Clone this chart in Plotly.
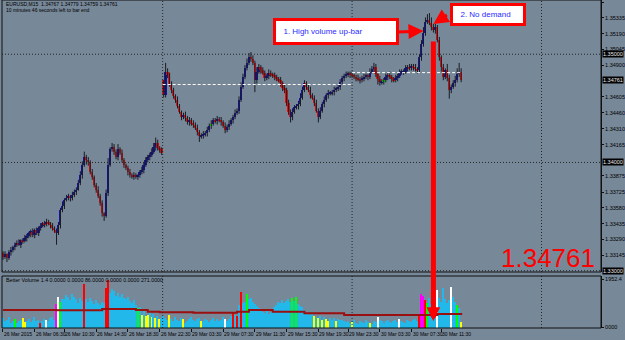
import plotly.graph_objects as go

# ---------------- data ----------------
closes_a = [1.3313, 1.3315, 1.3312, 1.3317, 1.3319, 1.3322, 1.3324, 1.3326, 1.3324, 1.3328,
            1.3327, 1.3330, 1.3332, 1.3335, 1.3336, 1.3333, 1.3338, 1.3335, 1.3339, 1.3341,
            1.3344, 1.3343, 1.3345, 1.3344, 1.3342, 1.3339, 1.3338, 1.3335, 1.3342, 1.3356,
            1.3360, 1.3365, 1.3367, 1.3369, 1.3367, 1.3370, 1.3373, 1.3375, 1.3381, 1.3388,
            1.3398, 1.3405, 1.3402, 1.3400, 1.3391, 1.3387, 1.3379, 1.3375, 1.3369, 1.3363,
            1.3353, 1.3351, 1.3372, 1.3398, 1.3412, 1.3414, 1.3410, 1.3405, 1.3412, 1.3409,
            1.3402, 1.3398, 1.3395, 1.3391, 1.3388, 1.3387, 1.3388, 1.3387, 1.3388, 1.3391,
            1.3393, 1.3398, 1.3402, 1.3405, 1.3407, 1.3410, 1.3414, 1.3418, 1.3413, 1.3412,
            1.3409]
closes_b = [1.3462, 1.3484, 1.3481, 1.3472, 1.3467, 1.3461, 1.3458, 1.3452, 1.3447, 1.3442,
            1.3444, 1.3441, 1.3437, 1.3439, 1.3436, 1.3435, 1.3432, 1.3428, 1.3424, 1.3425,
            1.3426, 1.3427, 1.3430, 1.3434, 1.3436, 1.3439, 1.3438, 1.3440, 1.3439, 1.3437,
            1.3434, 1.3430, 1.3433, 1.3436, 1.3439, 1.3442, 1.3446, 1.3448, 1.3458, 1.3470,
            1.3479, 1.3487, 1.3492, 1.3497, 1.3496, 1.3492, 1.3476, 1.3484, 1.3488, 1.3485,
            1.3483, 1.3478, 1.3480, 1.3483, 1.3481, 1.3480, 1.3479, 1.3477, 1.3476, 1.3473,
            1.3469, 1.3467, 1.3455, 1.3447, 1.3442, 1.3447, 1.3451, 1.3452, 1.3454, 1.3460,
            1.3467, 1.3473, 1.3470, 1.3467, 1.3462, 1.3460, 1.3455, 1.3448, 1.3442, 1.3448,
            1.3454, 1.3458, 1.3462, 1.3464, 1.3464, 1.3465, 1.3467, 1.3468, 1.3470, 1.3474,
            1.3478, 1.3480, 1.3481, 1.3482, 1.3481, 1.3480, 1.3479, 1.3478, 1.3477, 1.3476,
            1.3478, 1.3479, 1.3480, 1.3479, 1.3484, 1.3486, 1.3488, 1.3482, 1.3477, 1.3474,
            1.3475, 1.3476, 1.3479, 1.3481, 1.3479, 1.3477, 1.3476, 1.3478, 1.3480, 1.3483,
            1.3484, 1.3484, 1.3487, 1.3488, 1.3487, 1.3489, 1.3488, 1.3486, 1.3485, 1.3497,
            1.3509, 1.3520, 1.3530, 1.3532, 1.3529, 1.3525, 1.3522, 1.3525, 1.3513, 1.3497,
            1.3488, 1.3479, 1.3485, 1.3478, 1.3467, 1.3470, 1.3473, 1.3476, 1.3482, 1.3484,
            1.34761]
first_open = 1.3316
gap_bar = 81
gap_open = 1.3476

# wick lengths above / below the body, in pips
wick_up = [2,3,1,2,3,1,2,2,3,1, 2,3,2,1,2,3,1,2,2,3, 1,2,3,2,1,2,2,1,3,2,
           4,2,3,2,1,3,2,2,3,4, 3,5,2,3,2,3,1,2,3,2, 2,1,3,6,2,4,3,2,5,2,
           3,2,1,2,3,2,3,2,1,2, 3,2,3,2,2,3,4,5,3,2, 2,
           0,8,3,2,3,2,2,3,2,1, 2,3,2,3,2,3,2,3,2,2, 3,2,3,2,3,2,2,3,2,3,
           2,3,2,3,2,2,3,2,3,4, 3,3,4,4,5,3,2,4,3,2, 3,2,2,3,2,2,3,2,2,3,
           2,3,2,3,2,3,2,2,3,4, 3,3,2,2,3,2,2,3,2,3, 2,3,2,3,2,2,3,2,2,3,
           2,2,3,2,2,3,2,2,3,2, 2,3,2,2,3,3,4,3,2,3, 2,2,3,2,3,2,2,3,2,3,
           2,2,3,2,3,2,2,3,2,3, 4,5,4,5,6,5,3,3,2,3, 2,3,2,6,3,2,3,4,5,8, 3]
wick_dn = [3,2,4,2,3,2,3,2,1,3, 2,1,3,2,4,2,3,2,3,2, 1,3,2,2,3,2,3,11,2,3,
           2,3,1,2,3,2,2,3,1,2, 3,2,4,3,2,3,2,3,2,3, 3,5,2,3,2,2,3,2,3,2,
           2,3,2,3,2,2,3,2,3,2, 2,3,2,2,3,2,2,3,2,3, 2,
           2,2,3,2,3,2,3,2,2,3, 2,3,2,3,2,3,2,3,5,2, 3,2,3,2,3,2,2,3,2,3,
           2,3,2,3,2,3,2,2,3,2, 2,2,2,2,3,2,11,3,2,3, 2,3,2,3,2,2,3,2,2,3,
           3,3,3,3,5,3,2,2,3,2, 2,2,3,2,3,2,3,2,5,2, 2,3,2,3,2,2,3,2,2,3,
           2,3,2,2,3,2,2,3,2,3, 2,3,2,3,2,2,3,3,5,3, 2,3,2,3,2,3,2,2,3,2,
           2,3,2,3,2,2,3,2,3,2, 3,2,3,2,2,3,2,3,2,3, 4,3,2,3,8,3,2,3,2,3, 2]
green_bars = [105, 192]

volumes = ([380, 250, 300, 420, 200, 260, 330, 180, 250, 300, 390, 220, 280, 350, 240, 300, 420, 260,
            310, 200, 280, 350, 300, 250, 380, 420, 300]
           + [960, 1230, 1050, 1150]
           + [1180, 1320, 1260, 1100, 1380, 1250, 1150, 1000, 1220, 1080]
           + [1780]
           + [1150, 1020, 1200, 1080, 950, 1100, 1000, 900, 1050, 980]
           + [1620, 1940]
           + [1420, 1550, 1480, 1300, 1400, 1250, 1350, 1200, 1150, 1250, 1080, 1000, 1100]
           + [900, 780, 850, 520, 700, 450]
           + [500, 620, 420, 560, 380, 480, 350, 400]
           + [450, 380, 300, 520, 350, 280, 420, 300, 250, 380, 330, 200, 280, 350, 420, 300, 260, 330,
              400, 280, 250, 360, 300, 220, 310, 380, 270, 330, 250, 300, 420, 360, 280, 330, 450, 600,
              520, 480]
           + [900, 1430, 1000, 1050, 1350, 1150, 1200, 1020, 950, 880, 780, 700, 650, 600, 700, 560, 650]
           + [750, 820, 900, 1050, 980, 1100, 1000, 1080, 1150, 1020, 1200, 1080, 1230, 950, 880, 820, 700]
           + [620, 580, 520, 560, 480, 420, 380, 450, 300, 420, 350, 280, 380, 320, 400, 260, 350, 300]
           + [300, 250, 220, 280, 180, 240, 300, 200, 150, 260, 220, 180, 300, 240, 200, 160, 280, 220,
              420, 300, 250, 200, 280, 320, 240, 180, 260, 300, 220, 350, 280, 240, 200, 310, 260, 220,
              300, 350, 280, 520]
           + [1380, 1300, 1100, 1000, 1200, 950, 1050, 1100, 1520, 1200, 1050, 1600, 1150, 980, 1100,
              1650, 1250, 1050, 900, 800, 220])
volume_kind = ("bbbbbbgbbbyybbbbbbbrbbwbbbb" + "mwgb" + "b" * 10 + "r" + "b" * 10 + "rr" + "b" * 13
               + "bgbyby" + "ybybybyb"
               + "bbb" + "y" + "bbbbbb" + "y" + "bbbbbbbb" + "y" + "bbbbbbbbbbb" + "w" + "bbb" + "r" + "b" + "r"
               + "brbbgbbbbbbbbbbbb" + "bbbbbbbbbbgbgbbbb" + "bbbbybybybyybbbybb"
               + "bbbbbybbbbbbbbybbbwbbbbbbbbbbwbbbbbbbbbr"
               + "mmrgbbbbwbbbbbbwbbgby")
ma_start = [0, 27, 50, 67, 73, 79, 96, 118, 124, 136, 152, 172, 219, 231.5]
ma_level = [712, 700, 753, 712, 645, 618, 603, 645, 712, 645, 577, 509, 550, 550]

price_ticks = [1.35480, 1.35335, 1.35190, 1.35045, 1.34900, 1.34605, 1.34460, 1.34310, 1.34165,
               1.33875, 1.33725, 1.33580, 1.33435, 1.33290, 1.33145]
boxed_prices = [1.35000, 1.34761, 1.34000, 1.33000]
grid_prices = [1.35, 1.34, 1.33]
day_bars = [80.5, 176, 271.5]
day_open_level = [1.3472, 1.3483]
day_open_span = [(80.5, 176), (176, 231.5)]
date_bars = [0, 16, 31, 47, 63, 79, 95, 111, 127, 143, 159, 174, 190, 206, 221]
date_labels = ["26 Mar 2015", "26 Mar 06:30", "26 Mar 10:30", "26 Mar 14:30", "26 Mar 18:30",
               "26 Mar 22:30", "29 Mar 03:30", "29 Mar 07:30", "29 Mar 11:30", "29 Mar 15:30",
               "29 Mar 19:30", "29 Mar 23:30", "30 Mar 03:30", "30 Mar 07:30", "30 Mar 11:30"]
vol_max_label = 1952.4

# ---------------- build ----------------
PIP = 0.0001
closes = closes_a + closes_b
n = len(closes)
assert len(wick_up) == n and len(wick_dn) == n and len(volumes) == n and len(volume_kind) == n
idx = list(range(n))
opens = [first_open] + closes[:-1]
opens[gap_bar] = gap_open
highs = [max(o, c) + u * PIP for o, c, u in zip(opens, closes, wick_up)]
lows = [min(o, c) - d * PIP for o, c, d in zip(opens, closes, wick_dn)]

wx, wy = [], []
for i in idx:
    wx += [i, i, None]
    wy += [lows[i], highs[i], None]
body_base = [min(o, c) for o, c in zip(opens, closes)]
body_h = [max(abs(c - o), 0.00004) for o, c in zip(opens, closes)]
body_col = []
for i in idx:
    if i in green_bars:
        body_col.append("#00e000")
    elif closes[i] >= opens[i]:
        body_col.append("#1414a0")
    else:
        body_col.append("#e01414")

kind_col = {"b": "#22b8ea", "y": "#ffff00", "r": "#ff0000", "w": "#ffffff", "g": "#00ff00", "m": "#ff00ff"}
vcols = [kind_col[k] for k in volume_kind]

BG = "#778899"
FONT = "Liberation Sans"
H_PLOT = 328.0
main_dom = [56 / H_PLOT, 1.0]
vol_dom = [0.0, 52 / H_PLOT]
GRID = dict(color="#262626", width=1, dash="1px,2px")

fig = go.Figure()
fig.add_trace(go.Scatter(x=wx, y=wy, mode="lines", line=dict(color="#1b1b22", width=1),
                         hoverinfo="skip", yaxis="y", showlegend=False))
fig.add_trace(go.Bar(x=idx, y=body_h, base=body_base, width=0.9,
                     marker=dict(color=body_col, line=dict(width=0)), yaxis="y", showlegend=False))
fig.add_trace(go.Bar(x=idx, y=volumes, width=0.75,
                     marker=dict(color=vcols, line=dict(width=0)), yaxis="y2", showlegend=False))
fig.add_trace(go.Scatter(x=ma_start, y=ma_level, mode="lines",
                         line=dict(color="#9a0f0f", width=2, shape="hv"), yaxis="y2", showlegend=False))

shapes = []
for p in grid_prices:
    shapes.append(dict(type="line", xref="paper", x0=0, x1=1, yref="y", y0=p, y1=p, line=GRID))
for b in day_bars:
    for d0, d1 in (main_dom, vol_dom):
        shapes.append(dict(type="line", xref="x", x0=b, x1=b, yref="paper", y0=d0, y1=d1, line=GRID))
for lvl, (s0, s1) in zip(day_open_level, day_open_span):
    shapes.append(dict(type="line", xref="x", x0=s0, x1=s1, yref="y", y0=lvl, y1=lvl,
                       line=dict(color="#ffffff", width=1, dash="3px,2px")))
for d0, d1 in (main_dom, vol_dom):
    shapes.append(dict(type="rect", xref="paper", x0=0, x1=1, yref="paper", y0=d0, y1=d1,
                       line=dict(color="#111111", width=1)))

ann = []
def px_x(px):
    return (px - 2) / 604.0
def px_y(py):
    return (H_PLOT - py) / H_PLOT

ann.append(dict(text="EURUSD,M15  1.34767 1.34779 1.34759 1.34761", xref="paper", yref="paper",
                x=px_x(4), y=px_y(4.5), xanchor="left", yanchor="middle", showarrow=False,
                font=dict(family=FONT, size=5, color="#000000")))
ann.append(dict(text="10 minutes 46 seconds left to bar end", xref="paper", yref="paper",
                x=px_x(4), y=px_y(10), xanchor="left", yanchor="middle", showarrow=False,
                font=dict(family=FONT, size=5, color="#000000")))
ann.append(dict(text="Better Volume 1.4 0.0000 0.0000 86.0000 0.0000 0.0000 271.0000",
                xref="paper", yref="paper", x=px_x(4), y=px_y(279.5), xanchor="left", yanchor="middle",
                showarrow=False, font=dict(family=FONT, size=5.3, color="#000000")))
for b, t in zip(date_bars, date_labels):
    ann.append(dict(text=t, xref="x", yref="paper", x=b - 0.5, y=px_y(334), xanchor="left",
                    yanchor="middle", showarrow=False, font=dict(family=FONT, size=5, color="#000000")))
for p in boxed_prices:
    ann.append(dict(text="%.5f" % p, xref="paper", yref="y", x=1, y=p, xanchor="left", xshift=1,
                    yanchor="middle", showarrow=False, bgcolor="#000000", borderpad=0,
                    font=dict(family=FONT, size=5.5, color="#e8e8e8")))
# big red last price
ann.append(dict(text="1.34761", xref="paper", yref="paper", x=px_x(602), y=px_y(258), xanchor="right",
                yanchor="middle", showarrow=False, font=dict(family=FONT, size=26, color="#ff0000")))
# annotation boxes
ann.append(dict(text="&nbsp;&nbsp;1. High volume up-bar", xref="paper", yref="paper",
                x=px_x(338.5), y=px_y(31.5),
                xanchor="center", yanchor="middle", showarrow=False, width=114, height=15, align="left",
                bgcolor="#ffffff", bordercolor="#ff0000", borderwidth=3, borderpad=3,
                font=dict(family=FONT, size=8, color="#2a2aff")))
ann.append(dict(text="&nbsp;&nbsp;2. No demand", xref="paper", yref="paper", x=px_x(492), y=px_y(14.5),
                xanchor="center", yanchor="middle", showarrow=False, width=64, height=11, align="left",
                bgcolor="#ffffff", bordercolor="#ff0000", borderwidth=3, borderpad=3,
                font=dict(family=FONT, size=8, color="#2a2aff")))
# arrows
ann.append(dict(text="", xref="paper", yref="paper", x=px_x(427), y=px_y(31), ax=-28, ay=1,
                showarrow=True, arrowhead=2, arrowsize=1, arrowwidth=3, arrowcolor="#ff0000"))
ann.append(dict(text="", xref="paper", yref="paper", x=px_x(437), y=px_y(24), ax=15, ay=-10,
                showarrow=True, arrowhead=2, arrowsize=1, arrowwidth=3, arrowcolor="#ff0000"))
ann.append(dict(text="", xref="paper", yref="paper", x=px_x(437), y=px_y(321), ax=0, ay=-281,
                showarrow=True, arrowhead=2, arrowsize=0.55, arrowwidth=5, arrowcolor="#ff0000"))

fig.update_layout(
    width=625, height=340, margin=dict(l=2, r=19, t=0, b=12),
    paper_bgcolor=BG, plot_bgcolor=BG, barmode="overlay", bargap=0, showlegend=False,
    xaxis=dict(range=[-0.5, 301.5], anchor="y2", showgrid=False, zeroline=False,
               tickvals=date_bars, ticktext=[""] * len(date_bars), ticks="outside", ticklen=3,
               tickcolor="#111111", showline=False, fixedrange=True),
    yaxis=dict(domain=main_dom, range=[1.32988, 1.35501], side="right", showgrid=False, zeroline=False,
               tickvals=price_ticks, ticktext=["%.5f" % t for t in price_ticks], ticks="outside",
               ticklen=2, tickcolor="#111111", showline=True, linecolor="#111111",
               tickfont=dict(family=FONT, size=5.5, color="#000000")),
    yaxis2=dict(domain=vol_dom, range=[-20, 2096], side="right", showgrid=False, zeroline=False,
                tickvals=[vol_max_label, 0], ticktext=["%.1f" % vol_max_label, "0000"], ticks="outside",
                ticklen=2, tickcolor="#111111", showline=True, linecolor="#111111",
                tickfont=dict(family=FONT, size=5.5, color="#000000")),
    shapes=shapes, annotations=ann,
)
fig.write_html("out.html")
